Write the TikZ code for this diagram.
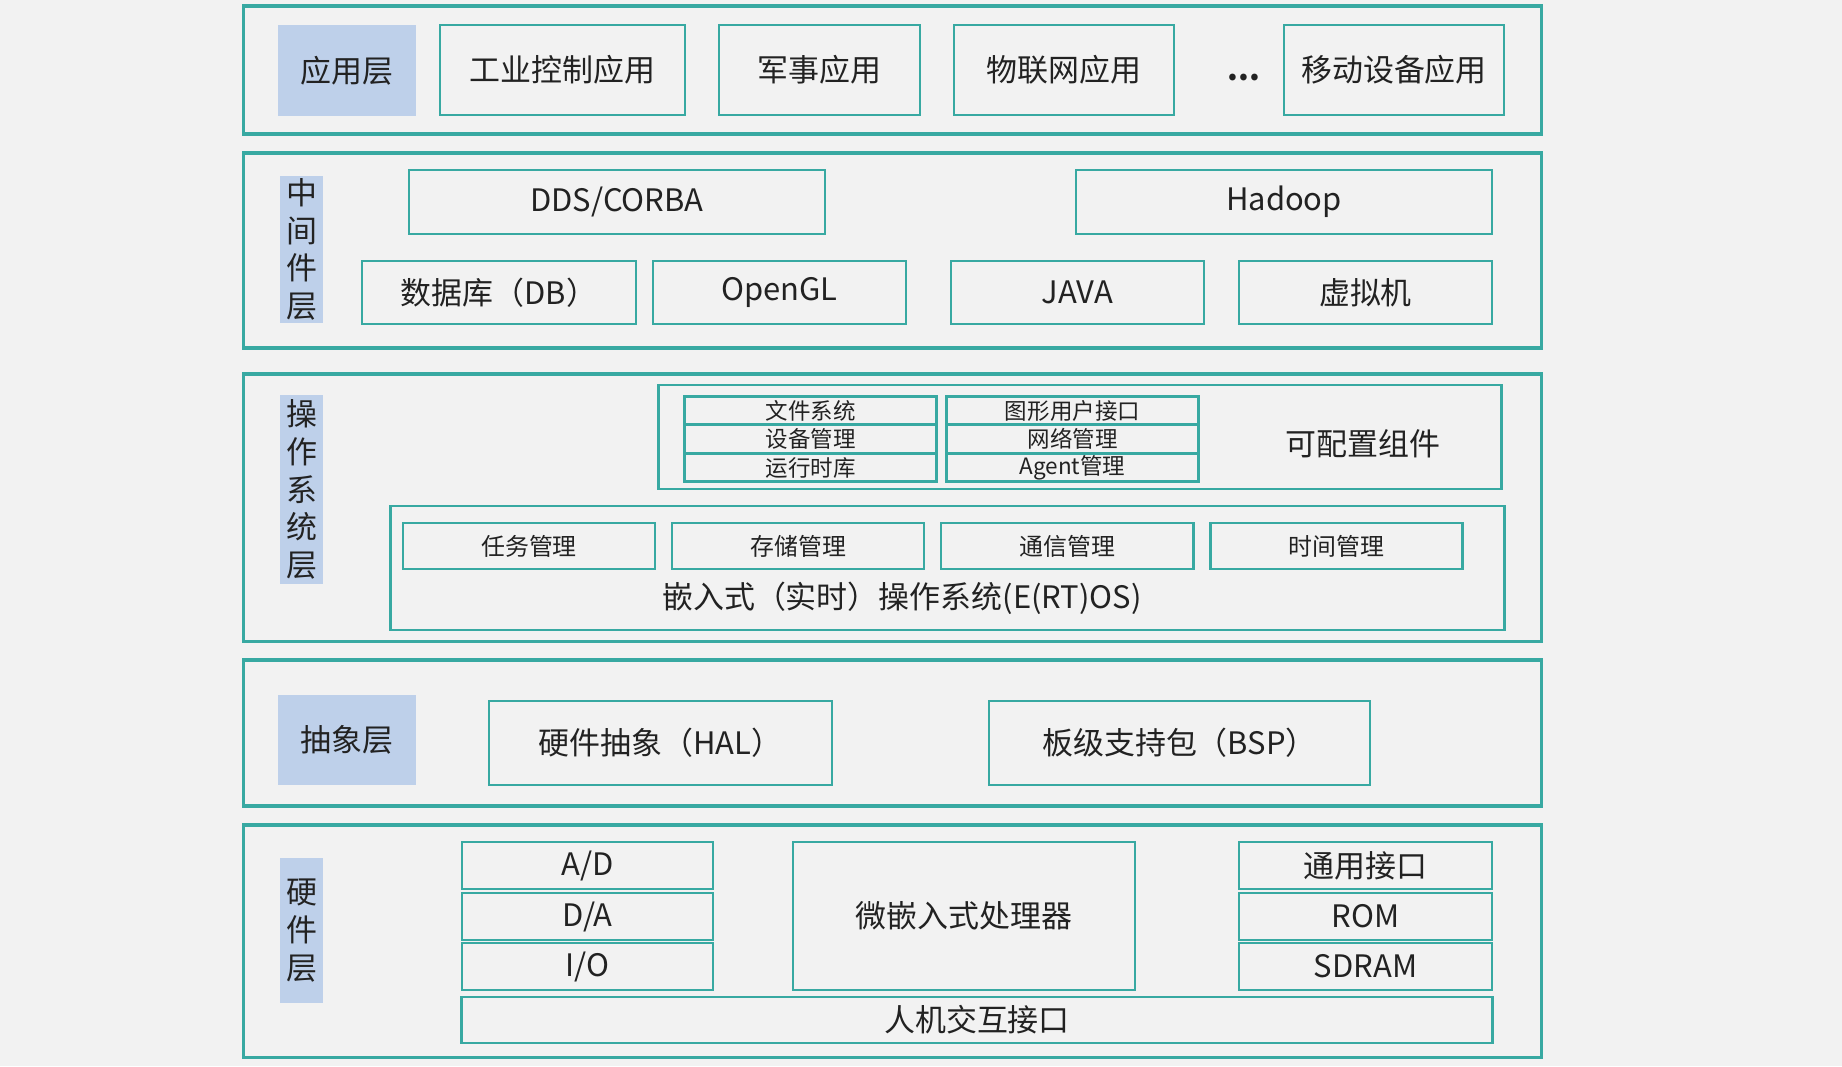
\documentclass[tikz,border=0pt]{standalone}
\usepackage{fontspec}
\setmainfont{Noto Sans CJK SC}
\usepackage{tikz}
\usepackage{xcolor}
\usetikzlibrary{positioning}
\definecolor{edgeteal}{HTML}{38A9A2}
\definecolor{tagblue}{HTML}{BED0EA}
\definecolor{pagegray}{HTML}{F2F2F2}
\definecolor{inkgray}{HTML}{222222}
\tikzset{
  layer/.style={draw=edgeteal, line width=0.9pt, minimum width=12.97cm},
  tag/.style={fill=tagblue, text=inkgray, minimum width=1.38cm, minimum height=0.9cm,
              font=\fontsize{8.8}{10.7}\selectfont},
  vtag/.style={fill=tagblue, text=inkgray, minimum width=0.43cm, align=center,
               inner sep=0pt, font=\fontsize{8.8}{10.7}\selectfont},
  item/.style={draw=edgeteal, line width=0.75pt, text=inkgray, inner sep=0pt,
               font=\fontsize{8.8}{10.6}\selectfont},
  cell/.style={draw=edgeteal, line width=0.85pt, text=inkgray, inner sep=0pt,
               minimum width=2.51cm, minimum height=0.285cm,
               font=\fontsize{6.4}{7}\selectfont},
  sub/.style={draw=edgeteal, line width=0.75pt, text=inkgray, inner sep=0pt,
              minimum width=2.52cm, minimum height=0.46cm,
              font=\fontsize{6.8}{8}\selectfont},
  txt/.style={text=inkgray, inner sep=0pt, font=\fontsize{8.8}{10.6}\selectfont},
}
\begin{document}
\begin{tikzpicture}[x=0.01cm, y=-0.01cm]
  \fill[pagegray] (0,0) rectangle (1842,1066);
  \useasboundingbox (0,0) rectangle (1842,1066);

  % application layer
  \node (app) [layer, minimum height=1.28cm] at (892.5,70) {};
  \node (apptag) [tag] at (347,70.5) {应用层};
  \node (ind) [item, minimum width=2.45cm, minimum height=0.9cm] at (562.5,70) {工业控制应用};
  \node (mil) [item, minimum width=2.01cm, minimum height=0.9cm] at (819.5,70) {军事应用};
  \node (iot) [item, minimum width=2.20cm, minimum height=0.9cm] at (1064,70) {物联网应用};
  \node (dots) [txt] at (1244,78) {\textbf{...}};
  \node (mob) [item, minimum width=2.20cm, minimum height=0.9cm] at (1394,70) {移动设备应用};

  % middleware layer
  \node (mid) [layer, minimum height=1.95cm] at (892.5,250.5) {};
  \node (midtag) [vtag, minimum height=1.47cm] at (301.5,249.5) {中\\间\\件\\层};
  \node (dds) [item, minimum width=4.16cm, minimum height=0.64cm] at (617,202) {DDS/CORBA};
  \node (hdp) [item, minimum width=4.16cm, minimum height=0.64cm] at (1284,202) {Hadoop};
  \node (db) [item, minimum width=2.74cm, minimum height=0.63cm] at (499,292.5) {数据库（DB）};
  \node (gl) [item, minimum width=2.53cm, minimum height=0.63cm] at (779.5,292.5) {OpenGL};
  \node (java) [item, minimum width=2.53cm, minimum height=0.63cm] at (1077.5,292.5) {JAVA};
  \node (vm) [item, minimum width=2.53cm, minimum height=0.63cm] at (1365.5,292.5) {虚拟机};

  % operating system layer
  \node (os) [layer, minimum height=2.67cm] at (892.5,507.5) {};
  \node (ostag) [vtag, minimum height=1.89cm] at (301.5,489.5) {操\\作\\系\\统\\层};
  \node (cfg) [item, minimum width=8.42cm, minimum height=1.04cm] at (1080,437) {};
  \node (fs) [cell] at (810.5,410.5) {文件系统};
  \node (dev) [cell] at (810.5,439) {设备管理};
  \node (rt) [cell] at (810.5,467.5) {运行时库};
  \node (gui) [cell] at (1072.5,410.5) {图形用户接口};
  \node (net) [cell] at (1072.5,439) {网络管理};
  \node (agt) [cell] at (1072.5,467.5) {Agent管理};
  \node (cfgtxt) [txt] at (1363,444) {可配置组件};
  \node (rtos) [item, minimum width=11.13cm, minimum height=1.24cm] at (947.5,568) {};
  \node (task) [sub] at (529,546) {任务管理};
  \node (mem) [sub, right=0.143cm of task] {存储管理};
  \node (com) [sub, right=0.143cm of mem] {通信管理};
  \node (tim) [sub, right=0.143cm of com] {时间管理};
  \node (rtostxt) [txt] at (902,598) {嵌入式（实时）操作系统(E(RT)OS)};

  % abstraction layer
  \node (abs) [layer, minimum height=1.46cm] at (892.5,733) {};
  \node (abstag) [tag] at (347,740) {抽象层};
  \node (hal) [item, minimum width=3.43cm, minimum height=0.84cm] at (660.5,743) {硬件抽象（HAL）};
  \node (bsp) [item, minimum width=3.81cm, minimum height=0.84cm] at (1179.5,743) {板级支持包（BSP）};

  % hardware layer
  \node (hw) [layer, minimum height=2.32cm] at (892.5,941) {};
  \node (hwtag) [vtag, minimum height=1.45cm] at (301.5,930.5) {硬\\件\\层};
  \node (ad) [item, minimum width=2.51cm, minimum height=0.47cm] at (587.5,865.5) {A/D};
  \node (da) [item, minimum width=2.51cm, minimum height=0.47cm] at (587.5,916.5) {D/A};
  \node (io) [item, minimum width=2.51cm, minimum height=0.47cm] at (587.5,966.5) {I/O};
  \node (cpu) [item, minimum width=3.42cm, minimum height=1.48cm] at (964,916) {微嵌入式处理器};
  \node (gio) [item, minimum width=2.53cm, minimum height=0.47cm] at (1365.5,865.5) {通用接口};
  \node (rom) [item, minimum width=2.53cm, minimum height=0.47cm] at (1365.5,916.5) {ROM};
  \node (ram) [item, minimum width=2.53cm, minimum height=0.47cm] at (1365.5,966.5) {SDRAM};
  \node (hmi) [item, minimum width=10.30cm, minimum height=0.46cm] at (977,1020) {人机交互接口};
\end{tikzpicture}
\end{document}
